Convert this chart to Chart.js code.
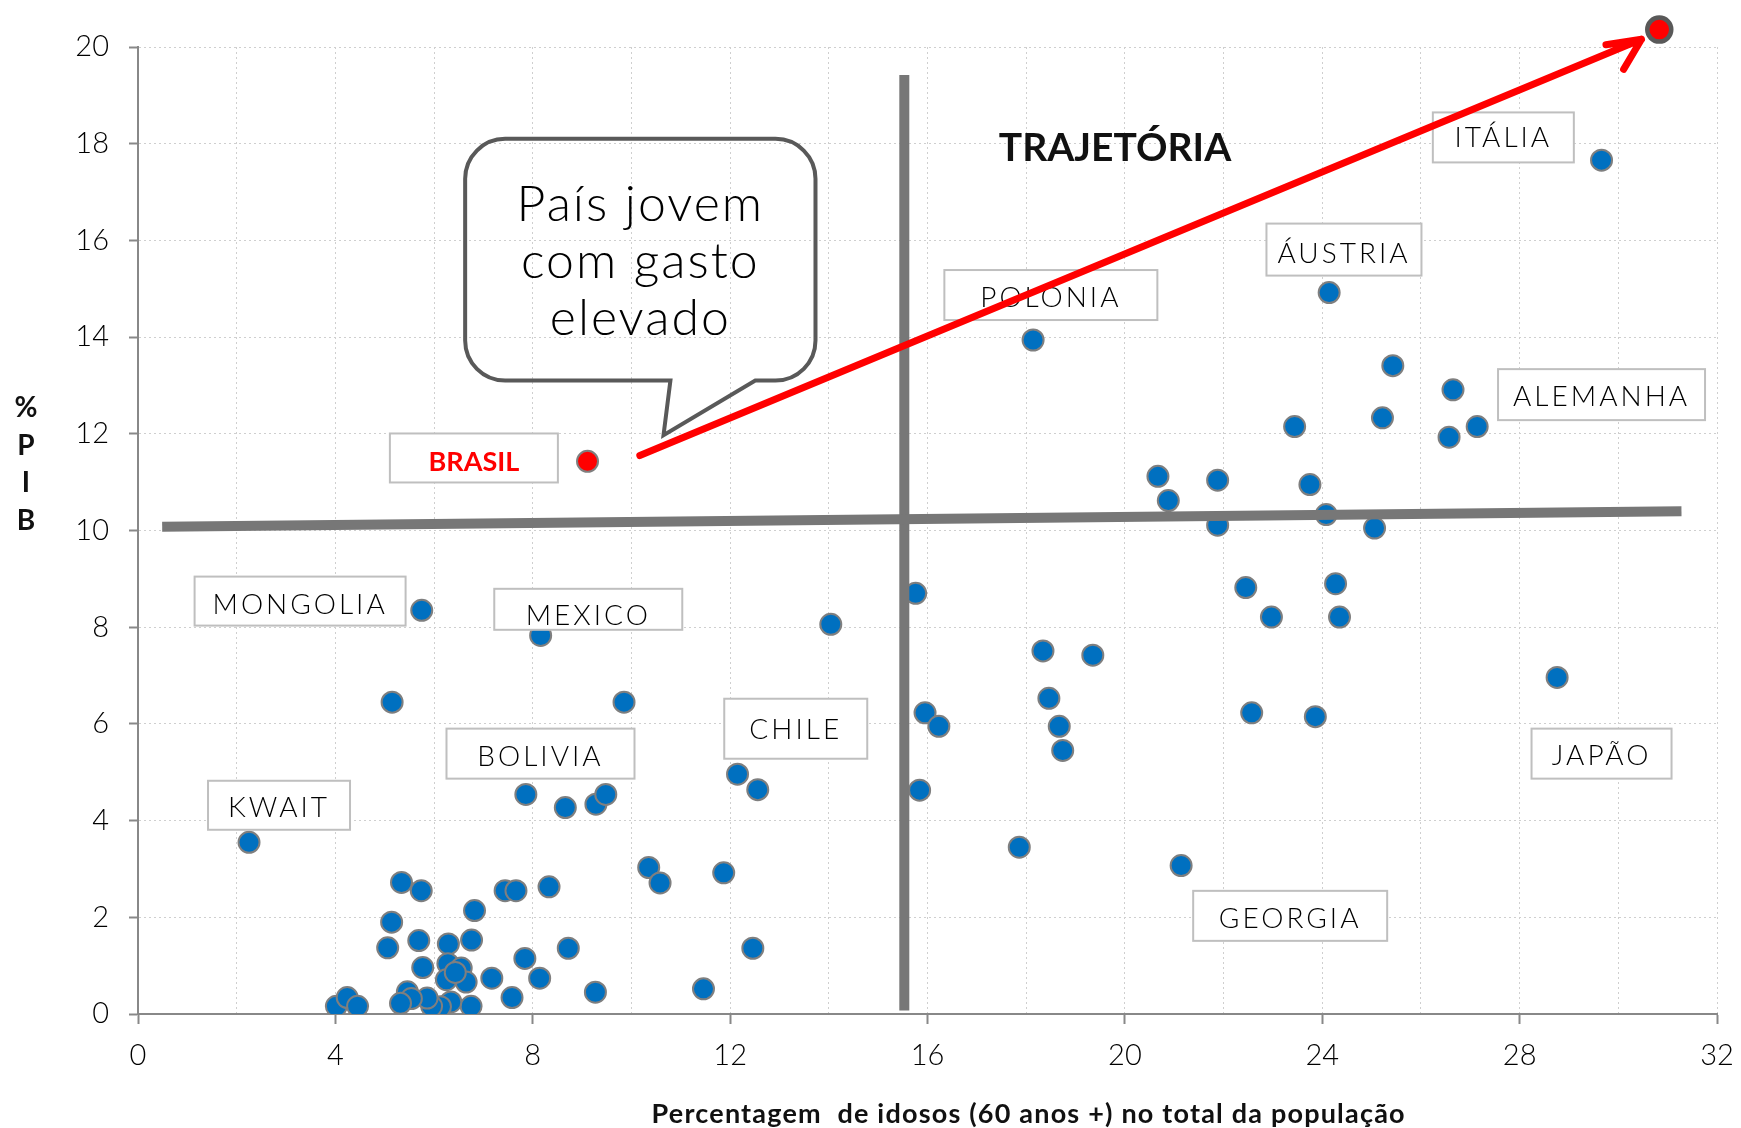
<!DOCTYPE html>
<html>
<head>
<meta charset="utf-8">
<script src="https://cdn.jsdelivr.net/npm/chart.js@4.4.1/dist/chart.umd.min.js"></script>
<style>
body { margin: 0; background: #fff; }
#wrap { width: 1741px; height: 1128px; }
</style>
</head>
<body>
<div id="wrap"><canvas id="grafico"></canvas></div>
<script>
// % de idosos (x) e gasto em saude % PIB (y)
var idosos = [2.25, 5.75, 5.15, 8.16, 9.85, 14.04, 7.86, 8.66, 9.28, 9.48,
    12.15, 12.56, 10.35, 10.58, 11.87, 12.46, 11.46, 9.27, 8.33, 7.44,
    7.66, 5.34, 5.74, 5.14, 5.06, 5.69, 5.77, 6.29, 6.82, 6.76,
    6.28, 6.55, 6.25, 6.65, 6.43, 7.17, 7.84, 8.14, 8.72, 7.58,
    6.75, 6.34, 6.13, 5.95, 5.86, 5.46, 5.54, 5.32, 4.02, 4.24,
    4.45, 15.76, 15.95, 16.23, 15.84, 17.86, 18.34, 19.35, 18.46, 18.67,
    18.74, 18.14, 21.14, 20.67, 20.88, 21.88, 21.88, 22.45, 22.97, 22.57,
    23.86, 23.44, 23.75, 24.08, 24.27, 24.35, 25.06, 24.14, 25.43, 25.22,
    26.65, 26.57, 27.14, 28.76, 29.66],
    gasto = [3.55, 8.35, 6.45, 7.83, 6.45, 8.06, 4.54, 4.27, 4.34, 4.54,
    4.96, 4.64, 3.03, 2.71, 2.92, 1.36, 0.52, 0.45, 2.63, 2.55,
    2.55, 2.72, 2.55, 1.90, 1.37, 1.52, 0.96, 1.45, 2.14, 1.53,
    1.04, 0.95, 0.71, 0.66, 0.86, 0.74, 1.15, 0.74, 1.36, 0.34,
    0.16, 0.25, 0.15, 0.16, 0.33, 0.46, 0.32, 0.22, 0.16, 0.34,
    0.16, 8.70, 6.23, 5.95, 4.63, 3.45, 7.51, 7.42, 6.53, 5.95,
    5.45, 13.94, 3.07, 11.12, 10.62, 11.04, 10.11, 8.82, 8.21, 6.23,
    6.15, 12.15, 10.95, 10.33, 8.90, 8.21, 10.05, 14.92, 13.41, 12.33,
    12.91, 11.93, 12.15, 6.96, 17.66];

var brasilX = [9.11], brasilY = [11.43];
var alvoX = [30.83], alvoY = [20.36];

var linhaHx = [0.49, 31.28], linhaHy = [10.08, 10.40];
var linhaVx = [15.53, 15.53], linhaVy = [0.07, 19.42];
var setaX = [10.17, 30.47], setaY = [11.55, 20.16];

var paises = ["MONGOLIA", "MEXICO", "BOLIVIA", "KWAIT", "CHILE", "BRASIL",
    "POLONIA", "ÁUSTRIA", "ITÁLIA", "ALEMANHA", "JAPÃO", "GEORGIA"];
var paisX = [3.285, 9.125, 8.157, 2.858, 13.33, 6.807, 18.50, 24.44, 27.67, 29.66, 29.66, 23.35],
    paisY = [8.54, 8.37, 5.385, 4.317, 5.90, 11.50, 14.87, 15.81, 18.13, 12.81, 5.385, 2.03];

var fala = ["País jovem", "com gasto", "elevado"];

function pontos(xs, ys) {
    return xs.map(function (v, i) { return { x: v, y: ys[i] }; });
}

// tamanho das caixas em px
var caixaW = [211, 188, 188, 142, 143, 168, 213, 155, 141, 207, 140, 194],
    caixaH = [49, 41, 50, 49, 60, 49, 50, 52, 50, 51, 50, 50],
    caixaDy = [4, 7, 3, 3, 1, 4, 3, 4, 1, 2, 2, 3];

var anotacoes = {
    id: 'anotacoes',
    afterDatasetsDraw: function (chart) {
        var ctx = chart.ctx, sx = chart.scales.x, sy = chart.scales.y;
        ctx.save();

        // caixas dos paises
        paises.forEach(function (nome, i) {
            var px = sx.getPixelForValue(paisX[i]), py = sy.getPixelForValue(paisY[i]),
                w = caixaW[i], h = caixaH[i];
            ctx.fillStyle = '#fff';
            ctx.strokeStyle = '#bfbfbf';
            ctx.lineWidth = 2;
            ctx.fillRect(px - w / 2, py - h / 2, w, h);
            ctx.strokeRect(px - w / 2, py - h / 2, w, h);
            ctx.textAlign = 'center';
            ctx.textBaseline = 'middle';
            if (nome === 'BRASIL') {
                ctx.font = 'bold 27px Lato';
                ctx.letterSpacing = '0px';
                ctx.fillStyle = '#ff0000';
            } else {
                ctx.font = '300 28px Lato';
                ctx.letterSpacing = '3px';
                ctx.fillStyle = '#000';
            }
            ctx.fillText(nome, px, py + caixaDy[i]);
        });
        ctx.letterSpacing = '0px';

        ctx.font = 'bold 39px Lato';
        ctx.fillStyle = '#111';
        ctx.fillText('TRAJETÓRIA', sx.getPixelForValue(19.80), sy.getPixelForValue(17.91));

        // seta vermelha
        var x1 = sx.getPixelForValue(setaX[0]), y1 = sy.getPixelForValue(setaY[0]),
            x2 = sx.getPixelForValue(setaX[1]), y2 = sy.getPixelForValue(setaY[1]),
            back = Math.atan2(y2 - y1, x2 - x1) + Math.PI;
        ctx.strokeStyle = '#ff0000';
        ctx.lineWidth = 7;
        ctx.lineCap = 'round';
        ctx.lineJoin = 'round';
        ctx.beginPath();
        ctx.moveTo(x1, y1);
        ctx.lineTo(x2, y2);
        ctx.moveTo(x2 + 36 * Math.cos(back + 0.24), y2 + 36 * Math.sin(back + 0.24));
        ctx.lineTo(x2, y2);
        ctx.lineTo(x2 + 35 * Math.cos(back - 0.64), y2 + 35 * Math.sin(back - 0.64));
        ctx.stroke();

        // ponto de chegada (fica acima da area do grafico)
        ctx.beginPath();
        ctx.arc(sx.getPixelForValue(alvoX[0]), sy.getPixelForValue(alvoY[0]), 12, 0, Math.PI * 2);
        ctx.fillStyle = '#ff0000';
        ctx.fill();
        ctx.lineWidth = 4.5;
        ctx.strokeStyle = '#595959';
        ctx.stroke();

        // balao de fala
        var l = sx.getPixelForValue(6.63), r = sx.getPixelForValue(13.73),
            t = sy.getPixelForValue(18.10), b = sy.getPixelForValue(13.10),
            tl = sx.getPixelForValue(10.79), tr = sx.getPixelForValue(12.51),
            tx = sx.getPixelForValue(10.65), ty = sy.getPixelForValue(11.97),
            rad = 40;
        ctx.strokeStyle = '#595959';
        ctx.lineWidth = 4;
        ctx.lineCap = 'butt';
        ctx.lineJoin = 'miter';
        ctx.beginPath();
        ctx.moveTo(l + rad, t);
        ctx.lineTo(r - rad, t);
        ctx.arcTo(r, t, r, t + rad, rad);
        ctx.lineTo(r, b - rad);
        ctx.arcTo(r, b, r - rad, b, rad);
        ctx.lineTo(tr, b);
        ctx.lineTo(tx, ty);
        ctx.lineTo(tl, b);
        ctx.lineTo(l + rad, b);
        ctx.arcTo(l, b, l, b - rad, rad);
        ctx.lineTo(l, t + rad);
        ctx.arcTo(l, t, l + rad, t, rad);
        ctx.closePath();
        ctx.stroke();

        ctx.font = '300 50px Lato';
        ctx.fillStyle = '#000';
        ctx.textAlign = 'center';
        ctx.textBaseline = 'alphabetic';
        ctx.letterSpacing = '2px';
        fala.forEach(function (linha, i) {
            ctx.fillText(linha, (l + r) / 2, t + 82 + i * 57);
        });
        ctx.letterSpacing = '0px';

        // titulos dos eixos
        ctx.fillStyle = '#111';
        ctx.font = 'bold 27px Lato';
        ctx.letterSpacing = '1.2px';
        ctx.fillText('Percentagem  de idosos (60 anos +) no total da população', sx.getPixelForValue(18.05), 1123);
        ctx.letterSpacing = '0px';
        ctx.font = 'bold 28px Lato';
        ctx.textBaseline = 'middle';
        ['%', 'P', 'I', 'B'].forEach(function (c, i) {
            ctx.fillText(c, 26, 408 + i * 37.5);
        });
        ctx.restore();
    }
};

function drawGrafico() {
    var ctx = document.getElementById('grafico');
    new Chart(ctx, {
        type: 'scatter',
        data: {
            datasets: [{
                type: 'line',
                data: pontos(linhaHx, linhaHy),
                borderColor: '#777777',
                borderWidth: 10,
                pointRadius: 0,
                fill: false
            }, {
                type: 'line',
                data: pontos(linhaVx, linhaVy),
                borderColor: '#777777',
                borderWidth: 10,
                pointRadius: 0,
                fill: false
            }, {
                label: 'Países',
                data: pontos(idosos, gasto),
                backgroundColor: '#0070C0',
                borderColor: '#7f7f7f',
                borderWidth: 2,
                pointRadius: 10.5
            }, {
                label: 'Brasil',
                data: pontos(brasilX, brasilY),
                backgroundColor: '#ff0000',
                borderColor: '#7f7f7f',
                borderWidth: 2,
                pointRadius: 10.5
            }]
        },
        options: {
            responsive: true,
            maintainAspectRatio: false,
            animation: false,
            layout: { padding: { top: 47, right: 24, left: 0, bottom: 0 } },
            plugins: { legend: { display: false }, tooltip: { enabled: false } },
            scales: {
                x: {
                    type: 'linear',
                    min: 0, max: 32,
                    afterFit: function (scale) {
                        scale.height = 114;
                        scale.paddingLeft = 0;
                        scale.paddingRight = 0;
                    },
                    ticks: {
                        stepSize: 2,
                        padding: 14,
                        color: '#000',
                        font: { family: 'Lato', size: 29, weight: '300' },
                        callback: function (v) { return v % 4 === 0 ? v : ''; }
                    },
                    grid: {
                        color: '#cfcfcf',
                        lineWidth: 1,
                        tickLength: 10,
                        tickWidth: 2,
                        tickColor: function (c) {
                            return c.tick && c.tick.value % 4 === 0 ? '#888' : 'rgba(0,0,0,0)';
                        }
                    },
                    border: { color: '#888', width: 2, dash: [2, 3] }
                },
                y: {
                    min: 0, max: 20,
                    afterFit: function (scale) { scale.width = 138; },
                    ticks: {
                        stepSize: 2,
                        padding: 20,
                        color: '#000',
                        font: { family: 'Lato', size: 29, weight: '300' }
                    },
                    grid: {
                        color: '#cfcfcf',
                        lineWidth: 1,
                        tickLength: 9,
                        tickWidth: 2,
                        tickColor: '#888'
                    },
                    border: { color: '#888', width: 2, dash: [2, 3] }
                }
            }
        },
        plugins: [anotacoes]
    });
}

window.onload = function () {
    drawGrafico();
};
</script>
</body>
</html>
